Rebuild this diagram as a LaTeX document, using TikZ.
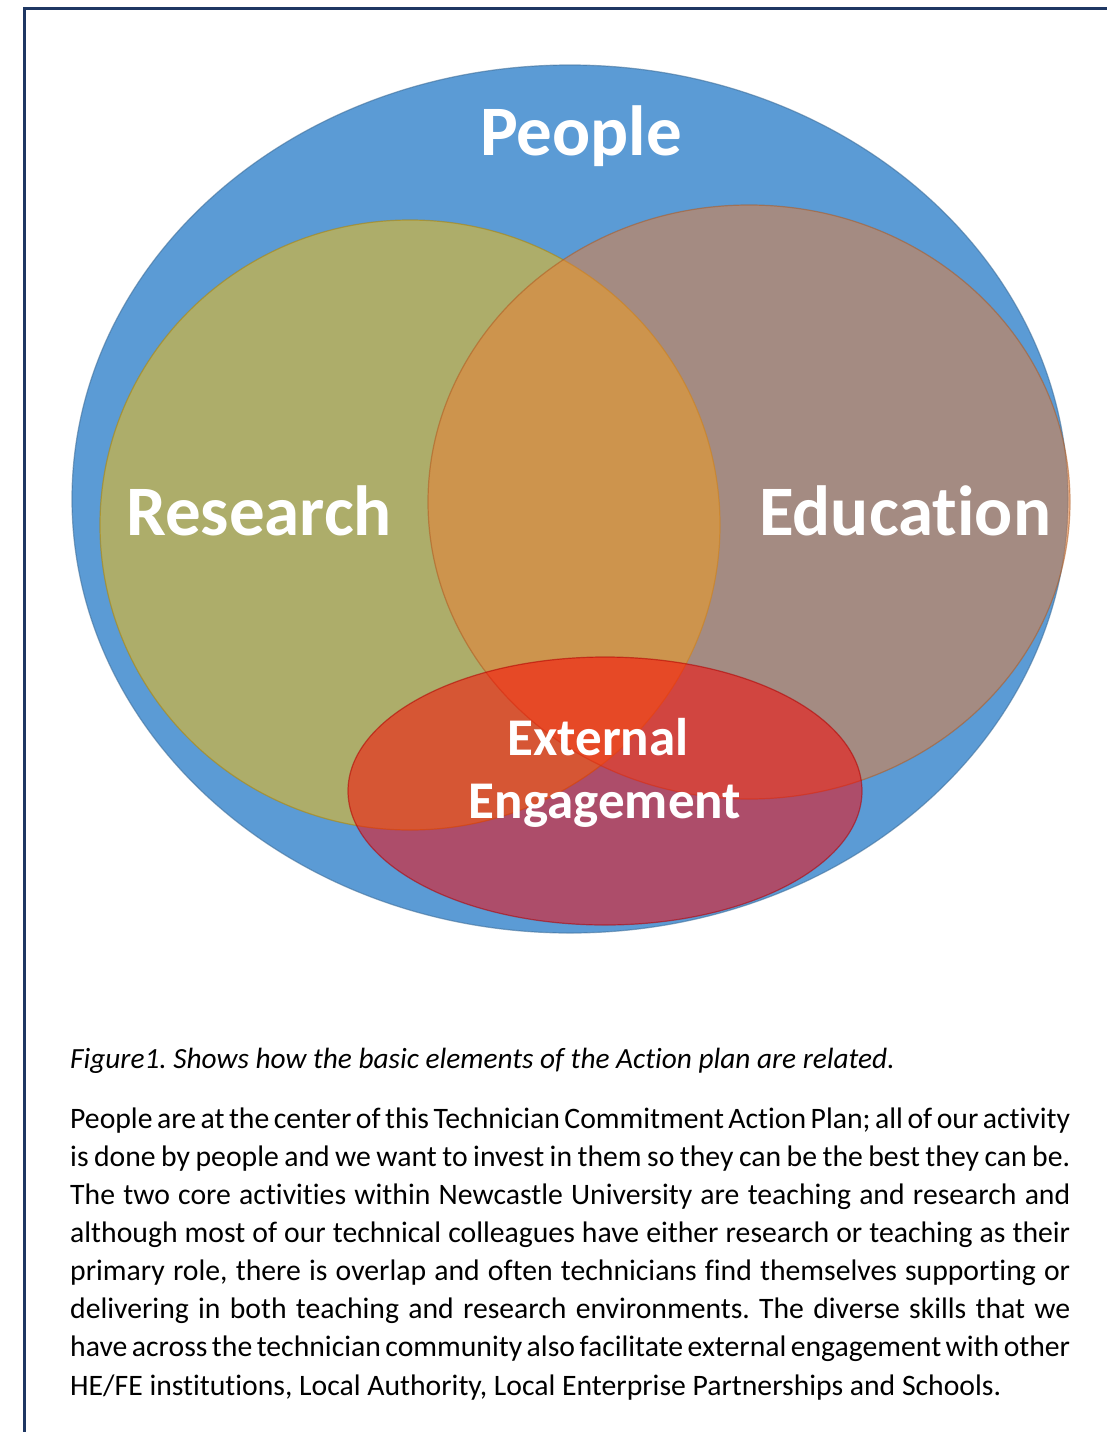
\documentclass[tikz,border=0pt]{standalone}
\usepackage{fontspec}
\setmainfont{Carlito}[Ligatures=NoCommon]
\usetikzlibrary{shapes.geometric}
\definecolor{peopleblue}{HTML}{5B9BD5}
\definecolor{peopleline}{HTML}{41719C}
\definecolor{resfill}{HTML}{FFC000}
\definecolor{resline}{HTML}{B08400}
\definecolor{edufill}{HTML}{ED7D31}
\definecolor{eduline}{HTML}{AE5A21}
\definecolor{extfill}{HTML}{FF0000}
\definecolor{extline}{HTML}{B00000}
\definecolor{framecol}{HTML}{1F3763}
\begin{document}
\frenchspacing
\begin{tikzpicture}[x=1pt,y=-1pt,
  setshape/.style={ellipse, inner sep=0pt, outer sep=0pt, line width=1.2pt},
  semishape/.style={setshape, fill opacity=0.5, draw opacity=0.55},
  biglabel/.style={text=white, font=\bfseries\fontsize{71}{71}\selectfont, inner sep=0pt, anchor=base},
  midlabel/.style={text=white, font=\bfseries\fontsize{53}{53}\selectfont, inner sep=0pt, anchor=base},
  bodytext/.style={inner sep=0pt, anchor=base west, text=black}
]
\useasboundingbox (0,0) rectangle (1107,1432);
\fill[white] (0,0) rectangle (1107,1432);

% frame
\coordinate (fbl) at (24.7,1440);
\coordinate (ftl) at (24.7,8.7);
\coordinate (ftr) at (1115,8.7);
\draw[framecol, line width=2.7pt] (fbl) -- (ftl) -- (ftr);

% sets
\node[setshape, fill=peopleblue, draw=peopleline, draw opacity=0.6,
      minimum width=996pt, minimum height=868pt] (people) at (570,499) {};
\node[semishape, fill=resfill, draw=resline,
      minimum width=620pt, minimum height=610pt] (research) at (410,525) {};
\node[semishape, fill=edufill, draw=eduline,
      minimum width=642pt, minimum height=594pt] (education) at (749,502) {};
\node[semishape, fill=extfill, draw=extline,
      minimum width=514pt, minimum height=268pt] (external) at (605,791) {};

% labels
\node[biglabel] (peoplelabel) at (581,155) {People};
\node[biglabel] (researchlabel) at (259,535) {Research};
\node[biglabel] (educationlabel) at (905,535) {Education};
\node[midlabel] (extlabela) at (598,755) {External};
\node[midlabel] (extlabelb) at (605,818) {Engagement};

% caption
\node[bodytext, font=\itshape\fontsize{29.3}{38.15}\selectfont] (caption) at (70,1068)
  {Figure1. Shows how the basic elements of the Action plan are related.};

% body paragraph
\node[bodytext] (body) at (70,1128) {\parbox[t]{1000pt}{\fontsize{29.7}{38.15}\selectfont
\tolerance=10000\hyphenpenalty=10000\parindent=0pt\hfuzz=50pt
People are at the center of this Technician Commitment Action Plan; all of our activity\linebreak
is done by people and we want to invest in them so they can be the best they can be.\linebreak
The two core activities within Newcastle University are teaching and research and\linebreak
although most of our technical colleagues have either research or teaching as their\linebreak
primary role, there is overlap and often technicians find themselves supporting or\linebreak
delivering in both teaching and research environments. The diverse skills that we\linebreak
have across the technician community also facilitate external engagement with other\linebreak
HE/FE institutions, Local Authority, Local Enterprise Partnerships and Schools.}};
\end{tikzpicture}
\end{document}
